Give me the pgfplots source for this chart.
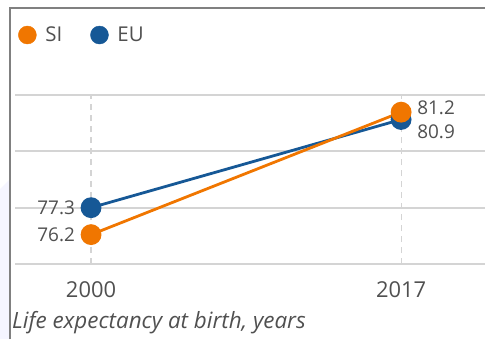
\documentclass[border=0pt]{standalone}
\usepackage{pgfplots}
\pgfplotsset{compat=1.18}
\usepackage{fontspec}
\setmainfont{Open Sans}
\definecolor{siorange}{RGB}{240,118,0}
\definecolor{eublue}{RGB}{22,88,150}
\definecolor{txt}{RGB}{80,80,80}
\definecolor{gridc}{RGB}{212,212,212}
\begin{document}
\begin{tikzpicture}[x=1bp,y=1bp]
\useasboundingbox (0,0) rectangle (485,339);
\fill[blue!4] (0,0) -- (0,150) -- (10,160) -- (10,0) -- cycle;
\begin{axis}[
  at={(15bp,75bp)}, anchor=south west,
  scale only axis, width=470bp, height=169bp,
  xmin=1995.83, xmax=2021.6, ymin=75, ymax=81.9,
  axis line style={draw=none},
  xtick={2000,2017}, ytick={75,77.3,79.6,81.9},
  yticklabels={},
  major tick length=0,
  xmajorgrids, ymajorgrids,
  x grid style={gridc, dashed, line width=1.2bp, dash pattern=on 6bp off 5bp},
  y grid style={gridc, line width=2bp},
  xticklabel style={font=\fontsize{22}{24}\selectfont, text=txt, inner sep=0pt, anchor=north, yshift=-17bp},
  /pgf/number format/assume math mode=true,
  xticklabel={\pgfmathprintnumber[1000 sep={}]{\tick}},
  clip=false,
  legend style={at={(rel axis cs:0.0,1.355)}, anchor=west, draw=none, fill=none,
    font=\fontsize{20.5}{22}\selectfont, text=txt, legend columns=-1,
    /tikz/every even column/.append style={column sep=26bp}},
  legend image code/.code={\fill[#1] (9bp,0) circle (9bp); \path[draw=none,fill=none] (0,0) rectangle (25bp,0.1bp);},
]
\addlegendimage{siorange, fill=siorange}
\addlegendentry{SI}
\addlegendimage{eublue, fill=eublue}
\addlegendentry{EU}
\addplot[eublue, line width=2.8bp, mark=*, mark size=9bp, mark options={fill=eublue, draw=eublue}, forget plot]
  coordinates {(2000,77.3) (2017,80.9)};
\addplot[siorange, line width=2.8bp, mark=*, mark size=9bp, mark options={fill=siorange, draw=siorange}, forget plot]
  coordinates {(2000,76.2) (2017,81.2)};
\node[anchor=east, inner sep=0pt, text=txt, font=\fontsize{19}{21}\selectfont, xshift=-16bp] at (axis cs:2000,77.3) {77.3};
\node[anchor=east, inner sep=0pt, text=txt, font=\fontsize{19}{21}\selectfont, xshift=-16bp] at (axis cs:2000,76.2) {76.2};
\node[anchor=west, inner sep=0pt, text=txt, font=\fontsize{19}{21}\selectfont, xshift=16bp, yshift=4bp] at (axis cs:2017,81.2) {81.2};
\node[anchor=west, inner sep=0pt, text=txt, font=\fontsize{19}{21}\selectfont, xshift=16bp, yshift=-12bp] at (axis cs:2017,80.9) {80.9};
\end{axis}
\draw[gray, line width=2bp] (10,0) -- (10,331) -- (485,331);
\node[anchor=base west, inner sep=0pt, text=txt, font=\fontsize{22.5}{24}\selectfont\itshape] at (12,11) {Life expectancy at birth, years};
\end{tikzpicture}
\end{document}
